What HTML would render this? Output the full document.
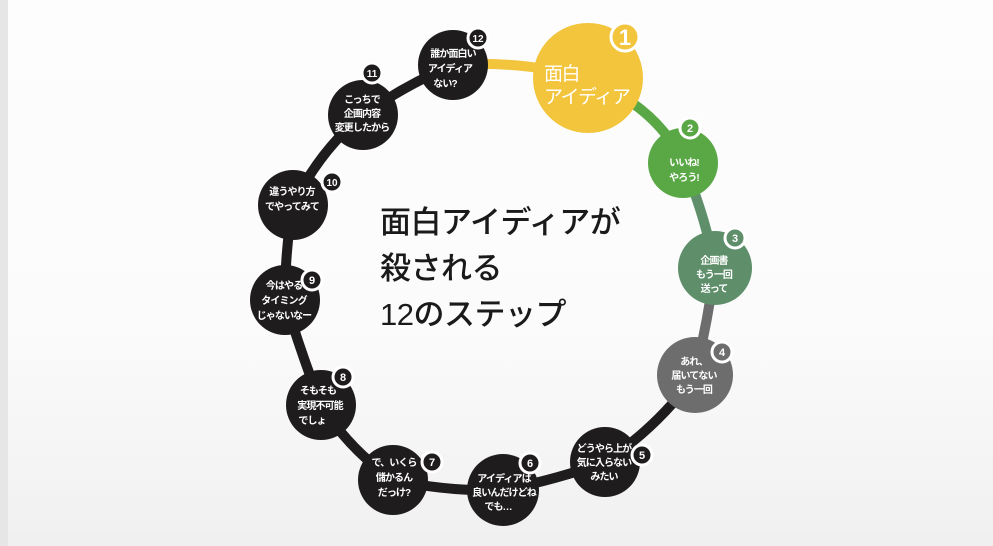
<!DOCTYPE html>
<html><head><meta charset="utf-8"><style>
html,body{margin:0;padding:0;}
body{width:993px;height:546px;overflow:hidden;background:linear-gradient(#fdfdfd 0%,#fbfbfb 60%,#f0f0f0 100%);font-family:"Liberation Sans","Noto Sans CJK JP",sans-serif;}
.s text{letter-spacing:-0.9px}
</style></head><body>
<svg width="993" height="546" viewBox="0 0 993 546" xmlns="http://www.w3.org/2000/svg" style="position:absolute;left:0;top:0;font-family:'Liberation Sans','Noto Sans CJK JP',sans-serif">
<rect x="0" y="0" width="8" height="546" fill="#e6e6e6"/>
<g fill="none" stroke-width="10" stroke-linecap="round">
<path d="M453 65 Q520 60 588 78" stroke="#f2c53d"/>
<path d="M588 78 Q660 110 683 163" stroke="#5aa845"/>
<path d="M683 163 Q705 215 715 268" stroke="#5e8f6a"/>
<path d="M715 268 Q708 320 695 375" stroke="#6d6d6d"/>
<path d="M695 375 Q660 425 605 462 Q555 480 503 490 Q450 492 393 480 Q350 450 321 405 Q300 350 285 300 Q285 250 293 205 Q320 150 363 115 Q405 85 453 65" stroke="#1e1c1c"/>
</g>
<g>
<circle cx="588" cy="78" r="55" fill="#f2c53d"/>
<circle cx="683" cy="163" r="35" fill="#5aa845"/>
<circle cx="715" cy="268" r="37" fill="#5e8f6a"/>
<circle cx="695" cy="375" r="38" fill="#6d6d6d"/>
<circle cx="605" cy="462" r="35" fill="#1e1c1c"/>
<circle cx="503" cy="490" r="36" fill="#1e1c1c"/>
<circle cx="393" cy="480" r="35" fill="#1e1c1c"/>
<circle cx="321" cy="405" r="35" fill="#1e1c1c"/>
<circle cx="285" cy="300" r="35" fill="#1e1c1c"/>
<circle cx="293" cy="205" r="35" fill="#1e1c1c"/>
<circle cx="363" cy="115" r="35" fill="#1e1c1c"/>
<circle cx="453" cy="65" r="35" fill="#1e1c1c"/>
</g>
<g stroke="#fff" stroke-width="3">
<circle cx="625" cy="37" r="14" fill="#f2c53d"/>
<circle cx="690" cy="128" r="10" fill="#5aa845"/>
<circle cx="735" cy="238" r="10" fill="#5e8f6a"/>
<circle cx="722" cy="352" r="10" fill="#6d6d6d"/>
<circle cx="642" cy="455" r="10" fill="#1e1c1c"/>
<circle cx="530" cy="463" r="10" fill="#1e1c1c"/>
<circle cx="432" cy="462" r="10" fill="#1e1c1c"/>
<circle cx="343" cy="377" r="10" fill="#1e1c1c"/>
<circle cx="312" cy="280" r="10" fill="#1e1c1c"/>
<circle cx="332" cy="182" r="10" fill="#1e1c1c"/>
<circle cx="372" cy="73" r="10" fill="#1e1c1c"/>
<circle cx="478" cy="38" r="10" fill="#1e1c1c"/>
</g>
<g fill="#fff" font-weight="bold" text-anchor="middle">
<text x="625" y="45" font-size="22">1</text>
<text x="690" y="132" font-size="11">2</text>
<text x="735" y="242" font-size="11">3</text>
<text x="722" y="356" font-size="11">4</text>
<text x="642" y="459" font-size="11">5</text>
<text x="530" y="467" font-size="11">6</text>
<text x="432" y="466" font-size="11">7</text>
<text x="343" y="381" font-size="11">8</text>
<text x="312" y="284" font-size="11">9</text>
<text x="332" y="186" font-size="10">10</text>
<text x="372" y="77" font-size="10">11</text>
<text x="478" y="42" font-size="10">12</text>
</g>
<g fill="#fff" font-size="19" style="letter-spacing:-1.5px">
<text x="544" y="80">面白</text>
<text x="544" y="103">アイディア</text>
</g>
<g class="s" fill="#fff" font-size="10" font-weight="bold" text-anchor="middle">
<text x="684" y="166">いいね!</text><text x="684" y="181">やろう!</text>
<text x="714" y="264">企画書</text><text x="714" y="278">もう一回</text><text x="714" y="292">送って</text>
<text x="694" y="365">あれ、</text><text x="694" y="379">届いてない</text><text x="694" y="393">もう一回</text>
<text x="604" y="452">どうやら上が</text><text x="604" y="466">気に入らない</text><text x="604" y="480">みたい</text>
<text x="504" y="482">アイディアは</text><text x="504" y="496">良いんだけどね</text><text x="498" y="510">でも…</text>
<text x="394" y="466">で、いくら</text><text x="394" y="481">儲かるん</text><text x="394" y="496">だっけ?</text>
<text x="318" y="394">そもそも</text><text x="320" y="409">実現不可能</text><text x="312" y="424">でしょ</text>
<text x="284" y="289">今はやる</text><text x="284" y="304">タイミング</text><text x="284" y="319">じゃないなー</text>
<text x="292" y="195">違うやり方</text><text x="292" y="210">でやってみて</text>
<text x="362" y="103">こっちで</text><text x="362" y="117">企画内容</text><text x="362" y="131">変更したから</text>
<text x="453" y="57">誰か面白い</text><text x="450" y="72">アイディア</text><text x="445" y="87">ない?</text>
</g>
<g fill="#1a1a1a" font-size="31" font-weight="500" style="letter-spacing:-0.5px">
<text x="380" y="233">面白アイディアが</text>
<text x="380" y="279">殺される</text>
<text x="380" y="325">12のステップ</text>
</g>
</svg>
</body></html>
